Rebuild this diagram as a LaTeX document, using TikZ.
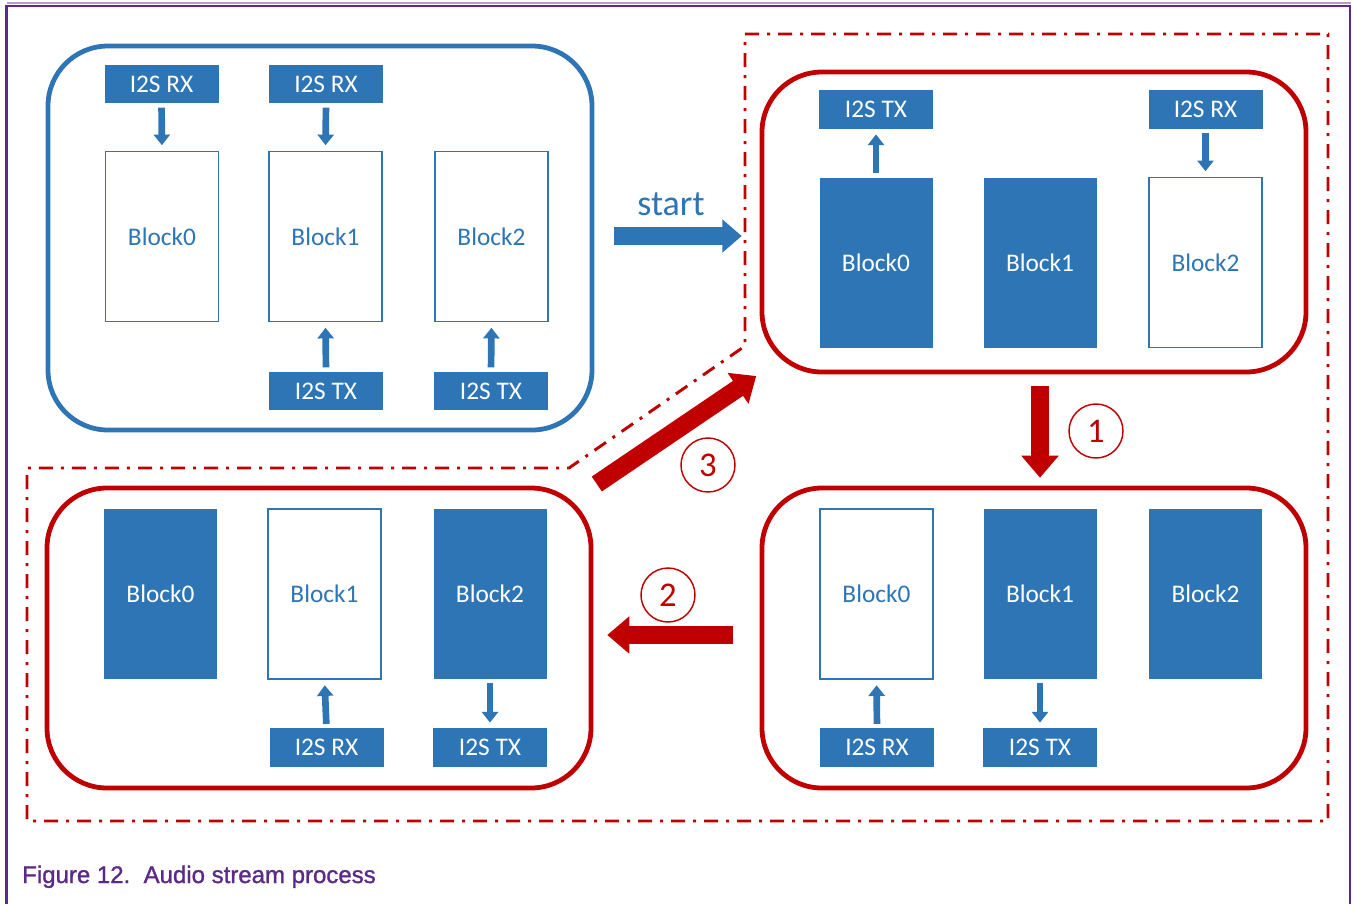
\documentclass[tikz,border=0pt]{standalone}
\usepackage{fontspec}
\usetikzlibrary{arrows.meta}
\newfontfamily\dfont{Carlito}
\newfontfamily\capfont[FakeBold=1.2]{Liberation Sans}
\definecolor{ablue}{HTML}{2E75B6}
\definecolor{ared}{HTML}{C00000}
\definecolor{npurple}{HTML}{5B2A86}
\tikzset{
  stage/.style={draw, rounded corners=45pt, line width=3.6pt},
  bluestage/.style={stage, draw=ablue},
  redstage/.style={stage, draw=ared},
  blkbase/.style={minimum width=84.75pt, minimum height=127.5pt, inner sep=0pt,
    font=\dfont\fontsize{19}{22}\selectfont},
  freeblk/.style={blkbase, draw=ablue, line width=1.4pt, fill=white, text=ablue},
  busyblk/.style={blkbase, fill=ablue, text=white},
  port/.style={minimum width=85.5pt, minimum height=29pt, inner sep=0pt, fill=ablue,
    text=white, font=\dfont\fontsize{19}{22}\selectfont},
  smallarrow/.style={draw=ablue, line width=5pt,
    -{Triangle[width=12pt,length=8pt]}, shorten <=3pt, shorten >=4pt},
  bigarrow/.style={draw=ared, line width=13.5pt, -{Triangle[width=27pt,length=16.5pt]}},
  steplabel/.style={circle, draw=ared, line width=1.1pt, minimum size=40.5pt, inner sep=0pt,
    text=ared, font=\dfont\fontsize{26}{28}\selectfont},
  zone/.style={draw=ared, line width=2.2pt,
    dash pattern=on 10.5pt off 6pt on 2.25pt off 6pt}
}
\begin{document}
\begin{tikzpicture}[x=0.75pt, y=-0.75pt]
\useasboundingbox (0,0) rectangle (1353,904);
\fill[white] (0,0) rectangle (1353,904);

% page frame
\draw[npurple!45, line width=1pt] (7,3) -- (1351,3);
\draw[npurple, line width=1.6pt] (6.5,904) -- (6.5,6) -- (1350,6) -- (1350,904);

% dash-dotted zone around the three repeating stages
\draw[zone] (745,34) -- (1328,34) -- (1328,821) -- (27,821) -- (27,468)
  -- (569,468) -- (745,346) -- cycle;

% stage frames
\draw[bluestage] (48,46) rectangle (592,430);
\draw[redstage] (762,72) rectangle (1306,372);
\draw[redstage] (762,488) rectangle (1306,788);
\draw[redstage] (47,488) rectangle (591,788);
\node[inner sep=0pt, minimum width=408pt, minimum height=288pt] (A) at (320,238) {};
\node[inner sep=0pt, minimum width=408pt, minimum height=225pt] (B) at (1034,222) {};
\node[inner sep=0pt, minimum width=408pt, minimum height=225pt] (C) at (1034,638) {};
\node[inner sep=0pt, minimum width=408pt, minimum height=225pt] (D) at (319,638) {};

% stage A: initial state
\node[port] (arx0) at (161.5,84) {I2S RX};
\node[port] (arx1) at (326,84) {I2S RX};
\node[freeblk] (ab0) at (162,236.5) {Block0};
\node[freeblk] (ab1) at (325.5,236.5) {Block1};
\node[freeblk] (ab2) at (491.5,236.5) {Block2};
\node[port] (atx1) at (326,391) {I2S TX};
\node[port] (atx2) at (491,391) {I2S TX};
\draw[smallarrow] (arx0.south) -- (ab0.north);
\draw[smallarrow] (arx1.south) -- (ab1.north);
\draw[smallarrow] (atx1.north) -- (ab1.south);
\draw[smallarrow] (atx2.north) -- (ab2.south);

% stage B
\node[port] (btx) at (876,109.5) {I2S TX};
\node[port] (brx) at (1205.5,109.5) {I2S RX};
\node[busyblk] (bb0) at (876,262.5) {Block0};
\node[busyblk] (bb1) at (1040,262.5) {Block1};
\node[freeblk] (bb2) at (1205.5,262.5) {Block2};
\draw[smallarrow] (bb0.north) -- (btx.south);
\draw[smallarrow] (brx.south) -- (bb2.north);

% stage C
\node[freeblk] (cb0) at (876.5,594) {Block0};
\node[busyblk] (cb1) at (1040,594) {Block1};
\node[busyblk] (cb2) at (1205.5,594) {Block2};
\node[port] (crx) at (877,747.5) {I2S RX};
\node[port] (ctx) at (1040,747.5) {I2S TX};
\draw[smallarrow] (crx.north) -- (cb0.south);
\draw[smallarrow] (cb1.south) -- (ctx.north);

% stage D
\node[busyblk] (db0) at (160.5,594) {Block0};
\node[freeblk] (db1) at (324.5,594) {Block1};
\node[busyblk] (db2) at (490,594) {Block2};
\node[port] (drx) at (326.5,747.5) {I2S RX};
\node[port] (dtx) at (490,747.5) {I2S TX};
\draw[smallarrow] (drx.north) -- (db1.south);
\draw[smallarrow] (db2.south) -- (dtx.north);

% transitions between stages
\draw[draw=ablue, line width=13.5pt, -{Triangle[width=24pt,length=14.5pt]},
  shorten <=16.5pt, shorten >=15pt]
  ([yshift=1.5pt]A.east) -- ([yshift=1.5pt]A.east -| B.west);
\node[text=ablue, font=\dfont\fontsize{27}{30}\selectfont] (startlbl) at (671,204) {start};

\draw[bigarrow, shorten <=10.5pt, shorten >=7.5pt] (bb1 |- B.south) -- (bb1 |- C.north);
\draw[bigarrow, shorten <=21.75pt, shorten >=12pt] ([yshift=2.25pt]C.west) -- ([yshift=2.25pt]D.east);
\draw[bigarrow, shorten <=5pt, shorten >=5pt] (D.north east) -- (B.south west);

\node[steplabel] (s1) at (1096,431) {1};
\node[steplabel] (s2) at (668,595) {2};
\node[steplabel] (s3) at (708,465) {3};

% caption
\node[anchor=base west, inner sep=0pt, text=npurple,
  font=\capfont\fontsize{18}{20}\selectfont] (cap) at (22,883)
  {Figure 12.\ \ Audio stream process};
\end{tikzpicture}
\end{document}
